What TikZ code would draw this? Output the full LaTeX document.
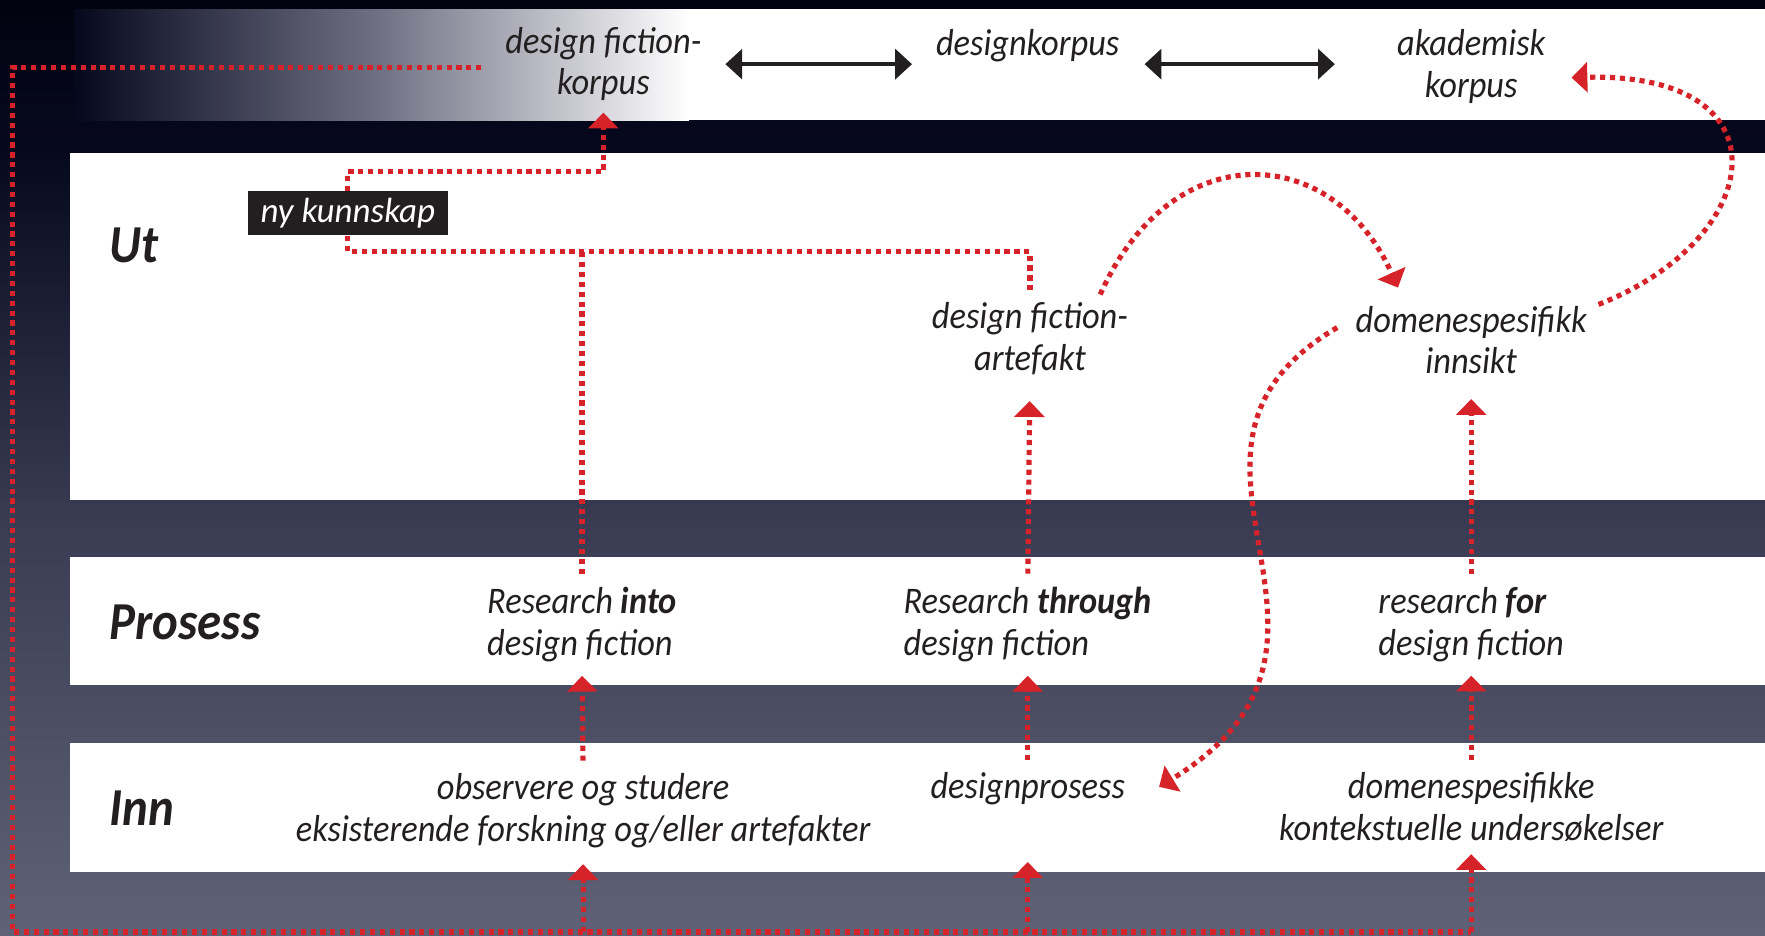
\documentclass[tikz,border=0pt]{standalone}
\usepackage{fontspec}
\setmainfont{Carlito}[FakeStretch=0.915]
\newfontfamily\tagfont{Carlito}
\usepackage{tikz}
\usetikzlibrary{calc,arrows.meta}
\definecolor{dotred}{RGB}{214,35,42}
\definecolor{inkblack}{RGB}{35,31,32}
\definecolor{bgtop}{RGB}{2,3,16}
\definecolor{bgdark}{RGB}{6,8,30}
\definecolor{bgmid}{RGB}{58,60,84}
\definecolor{bglowmid}{RGB}{75,77,99}
\definecolor{bglow}{RGB}{95,98,118}
\definecolor{korpusgrey}{RGB}{112,113,132}
\pgfdeclareverticalshading{nightsky}{100bp}{color(0bp)=(bglow); color(25bp)=(bglow); color(37bp)=(bglowmid); color(47bp)=(bgmid); color(67bp)=(bgdark); color(75bp)=(bgtop); color(100bp)=(bgtop)}

\begin{document}
\begin{tikzpicture}[x=0.02cm,y=-0.02cm,
  txt/.style={font=\fontsize{19}{21}\selectfont\itshape,text=inkblack,align=center,inner sep=0pt},
  lane/.style={font=\fontsize{27}{30}\selectfont\bfseries\itshape,text=inkblack,anchor=west,inner sep=0pt},
  tag/.style={fill=inkblack,text=white,font=\tagfont\fontsize{17.7}{20}\selectfont\itshape,minimum width=3.56cm,minimum height=0.78cm,inner sep=0pt},
  dotline/.style={dotred,line width=2.6pt,dash pattern=on 2.6pt off 2.4pt},
  dotarrow/.style={dotline,-{Triangle[width=15pt,length=8pt]}},
  uparrow/.style={dotarrow,shorten <=0.22cm,shorten >=0.24cm},
  twoway/.style={inkblack,line width=2.3pt,{Triangle[width=15pt,length=8.5pt]}-{Triangle[width=15pt,length=8.5pt]}}]
  \useasboundingbox (0,0) rectangle (1568,831);
  \shade[shading=nightsky] (0,0) rectangle (1568,831);
  \shade[left color=bgdark,right color=white,middle color=korpusgrey] (66,8) rectangle (612,107);
  \fill[white] (611,8) rectangle (1568,107);
  \fill[white] (62,136) rectangle (1568,444);
  \fill[white] (62,494.5) rectangle (1568,608.5);
  \fill[white] (62,660) rectangle (1568,774.6);

  \node[txt] (dfkorpus) at (536,57) {design fiction-\\korpus};
  \node[txt] (dkorpus) at (913,41) {designkorpus};
  \node[txt] (akorpus) at (1307,59) {akademisk\\korpus};
  \node[lane] (ut) at (97,218) {Ut};
  \node[lane] (prosess) at (97,553) {Prosess};
  \node[lane] (inn) at (97,718) {Inn};
  \node[tag] (nyk) at (309,189.5) {ny kunnskap};
  \node[txt] (artefakt) at (915,301) {design fiction-\\artefakt};
  \node[txt] (innsikt) at (1307,302) {domenespesifikk\\innsikt};
  \node[txt,align=left] (into) at (517,555) {Research \textbf{into}\\design fiction};
  \node[txt,align=left] (through) at (913,555) {Research \textbf{through}\\design fiction};
  \node[txt,align=left] (rfor) at (1307,555) {research \textbf{for}\\design fiction};
  \node[txt] (obs) at (518,720) {observere og studere\\eksisterende forskning og/eller artefakter};
  \node[txt] (dprosess) at (913,701) {designprosess};
  \node[txt] (kontekst) at (1307,717) {domenespesifikke\\kontekstuelle undersøkelser};

  \draw[twoway,shorten <=0.42cm,shorten >=0.42cm] (dfkorpus.east) -- (dfkorpus.east -| dkorpus.west);
  \draw[twoway,shorten <=0.44cm,shorten >=1.1cm] (dkorpus.east |- dfkorpus.east) -- (akorpus.west |- dfkorpus.east);

  \coordinate (loopNW) at (11,60);
  \coordinate (loopSW) at (11,828);
  \draw[dotline,shorten <=0.42cm] (dfkorpus.west |- loopNW) -- (loopNW) -- (loopSW) -- (loopSW -| kontekst);
  \draw[dotarrow,shorten >=0.29cm] (loopSW -| obs) -- (obs.south);
  \draw[dotarrow,shorten >=1cm] (loopSW -| dprosess) -- (dprosess.south);
  \draw[dotarrow,shorten >=0.22cm] (loopSW -| kontekst) -- (kontekst.south);
  \draw[uparrow] (obs.north) -- (into.south);
  \draw[uparrow] (dprosess.north) -- (through.south);
  \draw[uparrow] (kontekst.north) -- (rfor.south);
  \draw[dotarrow,shorten <=0.24cm,shorten >=0.46cm] (through.north) -- (artefakt.south);
  \draw[dotarrow,shorten <=0.24cm,shorten >=0.44cm] (rfor.north) -- (innsikt.south);

  \path (nyk.north) ++(0,-17) coordinate (nyUp);
  \path (nyk.south) ++(0,14) coordinate (nyDown);
  \draw[dotarrow,shorten >=0.2cm] (nyk.north) -- (nyUp) -| (dfkorpus.south);
  \draw[dotline,shorten >=0.14cm] (nyk.south) -- (nyDown) -| (artefakt.north);
  \draw[dotline,shorten <=0.24cm] (into.north) -- (into.north |- nyDown);

  \draw[dotarrow] ($(artefakt.north east)+(-25,-7)$) .. controls +(63,-142) and +(-58,-130) .. ($(innsikt.north west)+(38,-16)$);
  \draw[dotarrow] ($(innsikt.north east)+(10,-1)$) .. controls +(150,-59) and +(194,-5) .. ($(akorpus.east)+(23,10)$);
  \draw[dotarrow] ($(innsikt.west)+(-16,-11)$) .. controls +(-189,111) and +(212,-129) .. ($(dprosess.east)+(30,-2)$);
\end{tikzpicture}
\end{document}
